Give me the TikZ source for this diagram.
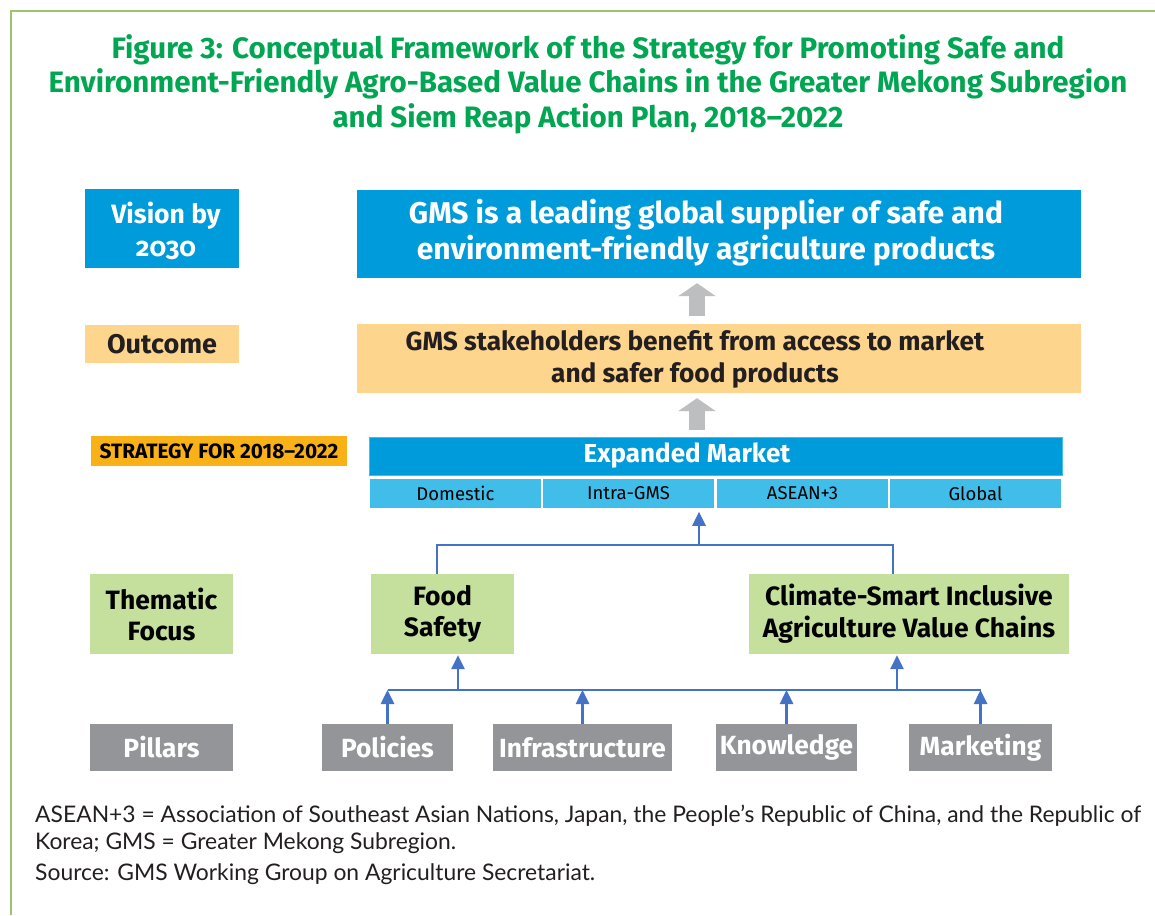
\documentclass[tikz,border=0pt]{standalone}
\usepackage{fontspec}
\setmainfont{Fira Sans}
\newfontfamily\footfont{Lato}
\usetikzlibrary{arrows.meta}
\definecolor{titlegreen}{RGB}{0,166,81}
\definecolor{framegreen}{RGB}{157,196,109}
\definecolor{vblue}{RGB}{0,155,218}
\definecolor{cellblue}{RGB}{65,189,233}
\definecolor{outyellow}{RGB}{253,213,141}
\definecolor{stratorange}{RGB}{248,177,23}
\definecolor{themgreen}{RGB}{197,224,156}
\definecolor{pillgray}{RGB}{147,149,152}
\definecolor{arrgray}{RGB}{188,190,192}
\definecolor{connblue}{RGB}{68,114,196}
\definecolor{darktext}{RGB}{35,31,32}
\newcommand{\fsz}[2]{\fontsize{#1pt}{#2pt}\selectfont}
\tikzset{
  box/.style={rectangle, inner sep=0pt, align=center, draw=none},
  fat/.style={draw=arrgray, line width=16pt, -{Triangle[length=13pt,width=37pt]}},
  conn/.style={draw=connblue, line width=2.6pt, line join=miter},
  arr/.style={-{Triangle[length=14pt,width=13pt]}},
  foot/.style={anchor=base west, inner sep=0pt, text=darktext, font=\footfont\fsz{22.85}{26}},
  titletext/.style={anchor=base, inner sep=0pt, text=titlegreen, font=\fsz{29.5}{34}\bfseries},
}
\begin{document}
\begin{tikzpicture}[x=1pt,y=-1pt]
\useasboundingbox (0,0) rectangle (1155,915);
\fill[white] (0,0) rectangle (1155,915);
% frame
\draw[framegreen, line width=1.6pt] (11,915) -- (11,11) -- (1155,11);
% title
\node[titletext] (t1) at (588,59) {Figure 3: Conceptual Framework of the Strategy for Promoting Safe and};
\node[titletext] (t2) at (588,93) {Environment-Friendly Agro-Based Value Chains in the Greater Mekong Subregion};
\node[titletext] (t3) at (588,127) {and Siem Reap Action Plan, 2018--2022};
% row labels
\node[box, fill=vblue, minimum width=154pt, minimum height=79pt] (visL) at (162,228.5) {};
\node[box, text=white, font=\fsz{26.5}{33}\bfseries] (visLT) at (166,231) {Vision by\\{\addfontfeatures{Numbers=OldStyle}2030}};
\node[box, fill=outyellow, minimum width=154pt, minimum height=38pt, text=darktext, font=\fsz{27}{30}\bfseries] (outL) at (162,344) {Outcome};
\node[box, fill=stratorange, minimum width=256pt, minimum height=30pt, text=black, font=\fsz{20.8}{24}\bfseries] (strL) at (219,451) {STRATEGY FOR 2018--2022};
\node[box, fill=themgreen, minimum width=143pt, minimum height=80pt, text=black, font=\fsz{26.5}{31}\bfseries] (themL) at (161.5,614) {Thematic\\Focus};
\node[box, fill=pillgray, minimum width=143pt, minimum height=47pt, text=white, font=\fsz{26.3}{30}\bfseries] (pilL) at (161.5,747.5) {Pillars};
% vision
\node[box, fill=vblue, minimum width=724pt, minimum height=88pt] (vis) at (719,234) {};
\node[box, text=white, font=\fsz{30}{36}\bfseries] (visT) at (706,233) {GMS is a leading global supplier of safe and\\environment-friendly agriculture products};
% outcome
\node[box, fill=outyellow, minimum width=724pt, minimum height=69pt] (outc) at (719,358.5) {};
\node[box, text=darktext, font=\fsz{26.3}{32}\bfseries] (outT) at (695,359) {GMS stakeholders benefit from access to market\\and safer food products};
% expanded market
\node[box, fill=vblue, draw=cellblue, line width=1pt, minimum width=693pt, minimum height=38pt] (mkt) at (715.5,456) {};
\node[box, text=white, font=\fsz{26}{30}\bfseries] (mktT) at (687,456) {Expanded Market};
\tikzset{cell/.style={box, fill=cellblue, draw=white, line width=1.5pt, minimum width=173pt, minimum height=31pt, text=black, font=\fsz{18.5}{22}}}
\node[cell] (c1) at (455.5,493.5) {Domestic};
\node[cell] (c2) at (628.5,493.5) {Intra-GMS};
\node[cell] (c3) at (802.5,493.5) {ASEAN+3};
\node[cell] (c4) at (975.5,493.5) {Global};
% thematic
\node[box, fill=themgreen, minimum width=143pt, minimum height=80pt, text=black, font=\fsz{26.5}{31}\bfseries] (fs) at (442.5,614) {Food\\Safety};
\node[box, fill=themgreen, minimum width=320pt, minimum height=80pt, text=black, font=\fsz{26.5}{32}\bfseries] (cl) at (909,614) {Climate-Smart Inclusive\\Agriculture Value Chains};
% pillars
\tikzset{pill/.style={box, fill=pillgray, minimum height=47pt, text=white, font=\fsz{26.3}{30}\bfseries}}
\node[pill, minimum width=131pt] (pol) at (387.5,747.5) {Policies};
\node[pill, minimum width=179pt] (inf) at (582.5,747.5) {Infrastructure};
\node[pill, minimum width=141pt] (kno) at (786.5,747.5) {Knowledge};
\node[pill, minimum width=143pt] (mkg) at (980.5,747.5) {Marketing};
% gray arrows
\coordinate (gx) at (697,0);
\draw[fat, shorten <=8pt, shorten >=5pt] (outc.north -| gx) -- (vis.south -| gx);
\draw[fat, shorten <=7pt, shorten >=5pt] (mkt.north -| gx) -- (outc.south -| gx);
% blue connectors: thematic to market
\coordinate (bl) at (437,545);
\coordinate (br) at (893,545);
\coordinate (bm) at (699,545);
\draw[conn] (fs.north -| bl) -- (bl) -- (br) -- (cl.north -| br);
\draw[conn, arr, shorten >=2pt] (bm) -- (bm |- c2.south);
% pillars to thematic
\coordinate (pl) at (387,690);
\coordinate (fa) at (458,690);
\coordinate (ca) at (897,690);
\draw[conn] (pol.north |- pl) -- (mkg.north |- pl);
\draw[conn, arr] (pol.north) -- (pol.north |- pl);
\draw[conn, arr] (inf.north) -- (inf.north |- pl);
\draw[conn, arr] (kno.north) -- (kno.north |- pl);
\draw[conn, arr] (mkg.north) -- (mkg.north |- pl);
\draw[conn, arr, shorten >=1pt] (fa) -- (fa |- fs.south);
\draw[conn, arr, shorten >=1pt] (ca) -- (ca |- cl.south);
% footer
\node[foot] (f1) at (35,822.5) {ASEAN+3 = Association of Southeast Asian Nations, Japan, the People’s Republic of China, and the Republic of};
\node[foot] (f2) at (35,849) {Korea; GMS = Greater Mekong Subregion.};
\node[foot] (f3) at (35,880) {Source: GMS Working Group on Agriculture Secretariat.};
\end{tikzpicture}
\end{document}
